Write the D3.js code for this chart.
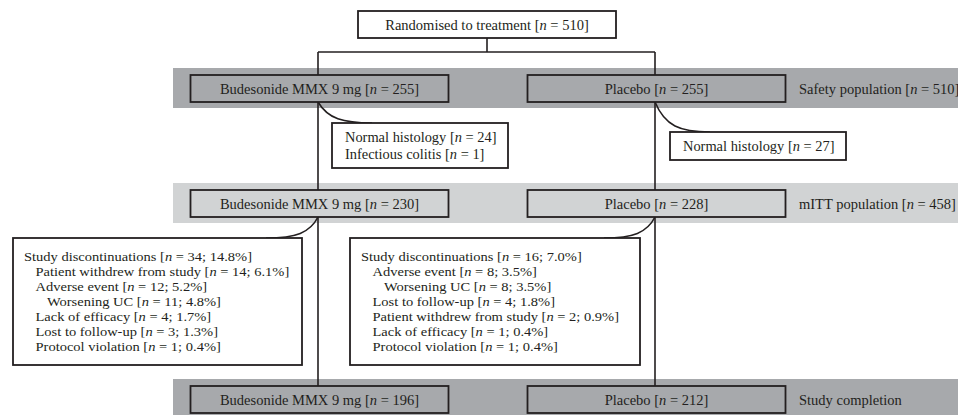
<!DOCTYPE html>
<html>
<head>
<meta charset="utf-8">
<script src="https://cdn.jsdelivr.net/npm/d3@7"></script>
<style>
  html, body { margin: 0; padding: 0; background: #ffffff; }
  svg { display: block; }
  text { font-family: "Liberation Serif", "Times New Roman", serif; fill: #231f20; }
</style>
</head>
<body>
<svg id="chart" width="958" height="415"></svg>
<script>
// ---------------- data ----------------
const randomisedLabel = "Randomised to treatment";
const randomisedN = "510";
const arms = ["Budesonide MMX 9 mg", "Placebo"];
const stages = ["Safety population", "mITT population", "Study completion"];
const stageTotals = ["510", "458", null];
const armNSafety = ["255", "255"];
const armNmITT = ["230", "228"];
const armNCompletion = ["196", "212"];
const exclusionBudesonide = [["Normal histology", "24"], ["Infectious colitis", "1"]];
const exclusionPlacebo = [["Normal histology", "27"]];
const discBudesonide = [
  ["Study discontinuations", "34; 14.8%", 0],
  ["Patient withdrew from study", "14; 6.1%", 1],
  ["Adverse event", "12; 5.2%", 1],
  ["Worsening UC", "11; 4.8%", 2],
  ["Lack of efficacy", "4; 1.7%", 1],
  ["Lost to follow-up", "3; 1.3%", 1],
  ["Protocol violation", "1; 0.4%", 1]
];
const discPlacebo = [
  ["Study discontinuations", "16; 7.0%", 0],
  ["Adverse event", "8; 3.5%", 1],
  ["Worsening UC", "8; 3.5%", 2],
  ["Lost to follow-up", "4; 1.8%", 1],
  ["Patient withdrew from study", "2; 0.9%", 1],
  ["Lack of efficacy", "1; 0.4%", 1],
  ["Protocol violation", "1; 0.4%", 1]
];
const armN = [armNSafety, armNmITT, armNCompletion];

// ---------------- layout ----------------
const INK = "#231f20";
const bandFill = ["#a7a9ac", "#d1d3d4", "#a7a9ac"];
const svg = d3.select("#chart");
const W = 958;

const x = d3.scalePoint().domain(arms).range([318, 655]);
const bandTop = d3.scaleOrdinal().domain(stages).range([68, 183, 379]);
const bandH = 40, boxOff = 7, boxH = 27, boxW = 258, bandX = 173, labelX = 799;
const FS = 14.5;

function nText(sel, prefix, value) {
  sel.append("tspan").text(prefix + " [");
  sel.append("tspan").attr("font-style", "italic").text("n");
  sel.append("tspan").text(" = " + value + "]");
}

// bands
stages.forEach((s, i) => {
  svg.append("rect")
    .attr("x", bandX).attr("y", bandTop(s))
    .attr("width", W - bandX).attr("height", bandH)
    .attr("fill", bandFill[i]);
});

const gLines = svg.append("g").attr("fill", "none").attr("stroke", INK).attr("stroke-width", 1.6);

// randomised box geometry
const randCx = (x(arms[0]) + x(arms[1])) / 2 + 0.5;
const randTop = 11, randH = 27, randW = 258;
const splitY = 52;

gLines.append("path").attr("d", `M${randCx},${randTop + randH} V${splitY}`);
gLines.append("path").attr("d", `M${x(arms[0])},${splitY} H${x(arms[1])}`);
arms.forEach(a => {
  gLines.append("path").attr("d", `M${x(a)},${splitY} V${bandTop(stages[2]) + boxOff}`);
});

// exclusion connectors + boxes
const exclBoxes = [
  { arm: arms[0], lines: exclusionBudesonide, x0: 332, y0: 123, w: 176, h: 45 },
  { arm: arms[1], lines: exclusionPlacebo, x0: 670, y0: 132, w: 176, h: 28 }
];
exclBoxes.forEach(b => {
  const sx = x(b.arm), sy = bandTop(stages[0]) + boxOff + boxH;
  const ex = b.x0 + 40, ey = b.y0;
  gLines.append("path").attr("d",
    `M${sx},${sy} C${sx + 10},${sy + (ey - sy) * 0.8} ${sx + 25},${ey} ${ex},${ey}`);
});

// discontinuation connectors
const discTop = 238, discH = 127;
const discBoxes = [
  { arm: arms[0], rows: discBudesonide, x0: 13, w: 289 },
  { arm: arms[1], rows: discPlacebo, x0: 350, w: 290 }
];
discBoxes.forEach(b => {
  const sx = x(b.arm), sy = bandTop(stages[1]) + boxOff + boxH;
  const ex = b.x0 + b.w - 36, ey = discTop;
  gLines.append("path").attr("d",
    `M${sx},${sy} C${sx - 8},${sy + (ey - sy) * 0.75} ${sx - 22},${ey} ${ex},${ey}`);
});

// randomised box
svg.append("rect")
  .attr("x", randCx - randW / 2).attr("y", randTop)
  .attr("width", randW).attr("height", randH)
  .attr("fill", "#fff").attr("stroke", INK).attr("stroke-width", 1.8);
svg.append("text")
  .attr("x", randCx).attr("y", randTop + randH / 2)
  .attr("dy", "0.35em").attr("text-anchor", "middle").attr("font-size", FS)
  .call(t => nText(t, randomisedLabel, randomisedN));

// arm boxes per stage
stages.forEach((s, i) => {
  arms.forEach((a, j) => {
    svg.append("rect")
      .attr("x", x(a) - boxW / 2 + 1.5).attr("y", bandTop(s) + boxOff)
      .attr("width", boxW).attr("height", boxH)
      .attr("fill", bandFill[i]).attr("stroke", INK).attr("stroke-width", 1.8);
    svg.append("text")
      .attr("x", x(a) + 1.5).attr("y", bandTop(s) + boxOff + boxH / 2)
      .attr("dy", "0.35em").attr("text-anchor", "middle").attr("font-size", FS)
      .call(t => nText(t, a, armN[i][j]));
  });
  const lab = svg.append("text")
    .attr("x", labelX).attr("y", bandTop(s) + boxOff + boxH / 2)
    .attr("dy", "0.35em").attr("font-size", FS);
  if (stageTotals[i]) nText(lab, s, stageTotals[i]); else lab.text(s);
});

// exclusion boxes
exclBoxes.forEach(b => {
  svg.append("rect")
    .attr("x", b.x0).attr("y", b.y0).attr("width", b.w).attr("height", b.h)
    .attr("fill", "#fff").attr("stroke", INK).attr("stroke-width", 1.8);
  const lh = 16.4;
  const first = b.y0 + b.h / 2 - (b.lines.length - 1) * lh / 2;
  b.lines.forEach((l, k) => {
    svg.append("text")
      .attr("transform", `translate(${b.x0 + 13},${first + k * lh}) scale(1.03,1)`)
      .attr("dy", "0.35em").attr("font-size", 14)
      .call(t => nText(t, l[0], l[1]));
  });
});

// discontinuation boxes
const discFS = 13.3, discSX = 1.09;
discBoxes.forEach(b => {
  svg.append("rect")
    .attr("x", b.x0).attr("y", discTop).attr("width", b.w).attr("height", discH)
    .attr("fill", "#fff").attr("stroke", INK).attr("stroke-width", 1.8);
  const lh = 14.9;
  const first = discTop + discH / 2 - (b.rows.length - 1) * lh / 2;
  b.rows.forEach((r, k) => {
    svg.append("text")
      .attr("transform", `translate(${b.x0 + 11 + r[2] * 11.5},${first + k * lh}) scale(${discSX},1)`)
      .attr("dy", "0.35em").attr("font-size", discFS)
      .call(t => nText(t, r[0], r[1]));
  });
});
</script>
</body>
</html>
